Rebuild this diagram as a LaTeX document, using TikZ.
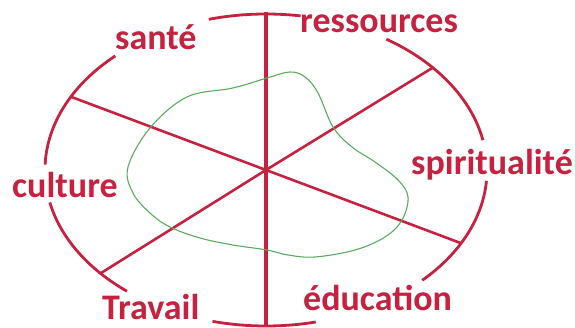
\documentclass[tikz,border=0pt]{standalone}
\usepackage{fontspec}
\setmainfont{Carlito}
\definecolor{wheelred}{RGB}{198,34,64}
\definecolor{blobgreen}{RGB}{90,170,95}
\begin{document}
\begin{tikzpicture}[x=1pt,y=1pt,
  rim/.style={draw=wheelred,line width=2.8pt},
  spoke/.style={draw=wheelred,line width=2.6pt},
  axisline/.style={draw=wheelred,line width=3.6pt},
  lbl/.style={text=wheelred,font=\fontsize{36}{36}\selectfont\bfseries,inner sep=0pt,anchor=base west},
  blob/.style={draw=blobgreen,line width=1.1pt}]
\useasboundingbox (0,0) rectangle (575,328);
\coordinate (C) at (266,158);
% ellipse arcs
\foreach \a/\b in {81/105, 11/57, -45/-4, -104/-77, 192/231, 133/178}{
  \draw[rim] ([shift={(C)}]\a:221pt and 156pt) arc[start angle=\a, end angle=\b, x radius=221pt, y radius=156pt];
}
% spokes
\coordinate (e1) at ([shift={(C)}]152:221pt and 156pt);
\coordinate (e2) at ([shift={(C)}]41:221pt and 156pt);
\coordinate (e3) at ([shift={(C)}]-28:221pt and 156pt);
\coordinate (e4) at ([shift={(C)}]221.5:221pt and 156pt);
\draw[spoke] (e1) -- (C) -- (e3);
\draw[spoke] (e4) -- (C) -- (e2);
\coordinate (vtop) at (266,316);
\coordinate (vbot) at (266,1);
\draw[axisline] (vtop) -- (vbot);
% green blob
\draw[blob] plot[smooth cycle, tension=0.6] coordinates {
 (128,161) (150,200) (187,231) (233,240) (267,250) (290,256) (305,251) (318,235)
 (333,201) (352,181) (375,166) (398,148) (408,131) (402,108) (385,91) (355,78)
 (315,71) (288,73) (267,78) (233,83) (200,90) (170,101) (150,115) (133,135)};
% labels
\node[lbl] (sante) at (115,278) {santé};
\node[lbl] (ress) at (300,295) {ressources};
\node[lbl] (spir) at (411,153) {spiritualité};
\node[lbl] (cult) at (12,130) {culture};
\node[lbl] (trav) at (102,8) {Travail};
\node[lbl] (educ) at (303,17) {éducation};
\end{tikzpicture}
\end{document}
